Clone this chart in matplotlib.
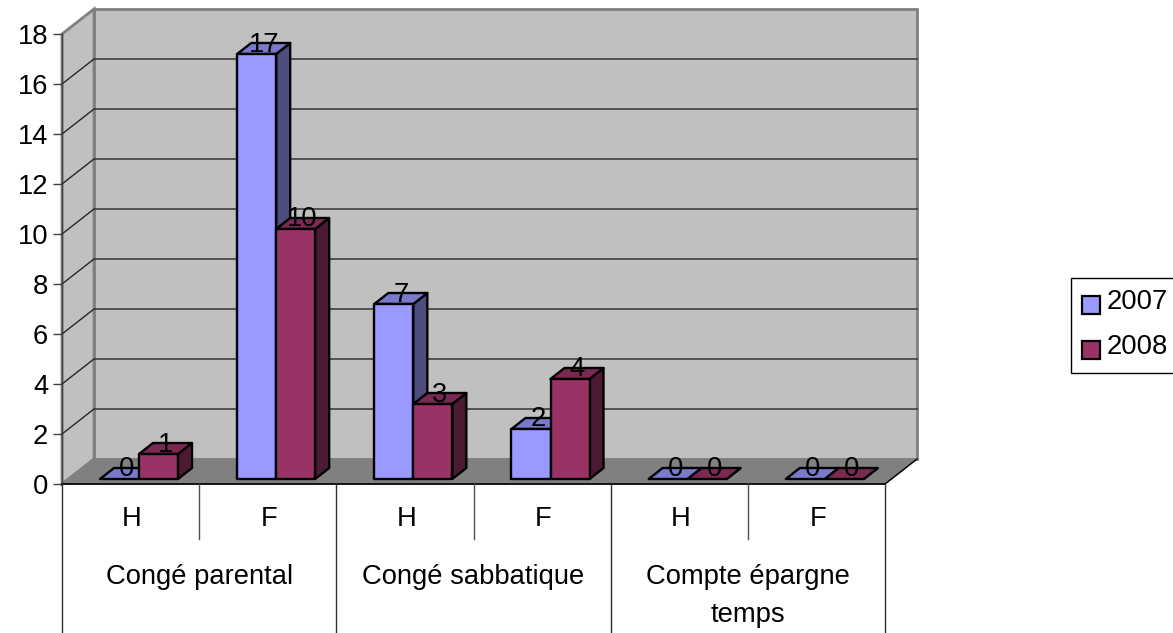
import matplotlib
matplotlib.use("Agg")
import matplotlib.pyplot as plt
from matplotlib.patches import Polygon, Rectangle
from matplotlib.lines import Line2D

plt.rcParams['font.family'] = ['Liberation Sans', 'DejaVu Sans']

# ---- data ----
subcategories = ['H', 'F', 'H', 'F', 'H', 'F']
groups = ['Congé parental', 'Congé sabbatique', 'Compte épargne\ntemps']
series_names = ['2007', '2008']
values_2007 = [0, 17, 7, 2, 0, 0]
values_2008 = [1, 10, 3, 4, 0, 0]
y_ticks = list(range(0, 19, 2))

W, H = 1173, 633
L, R, B, T = 62, 885, 484, 34          # front plane in pixels
PX = 6 / (R - L)                        # category units per pixel
PY = 18 / (B - T)                       # value units per pixel
FS = 19.7

fig = plt.figure(figsize=(W / 100, H / 100), dpi=100)
ax = fig.add_axes([L / W, 1 - B / H, (R - L) / W, (B - T) / H])
ax.set_xlim(0, 6)
ax.set_ylim(0, 18)
ax.patch.set_alpha(0)
for s in ax.spines.values():
    s.set_visible(False)

wall_dx, wall_dy = 32 * PX, 25 * PY
GRAY = '#808080'
WALL = '#C0C0C0'

# walls and floor
ax.add_patch(Polygon([(wall_dx, wall_dy), (6 + wall_dx, wall_dy),
                      (6 + wall_dx, 18 + wall_dy), (wall_dx, 18 + wall_dy)],
                     fc=WALL, ec=GRAY, lw=2, clip_on=False, zorder=1))
ax.add_patch(Polygon([(0, 0), (wall_dx, wall_dy), (wall_dx, 18 + wall_dy), (0, 18)],
                     fc=WALL, ec=GRAY, lw=2, clip_on=False, zorder=1))
ax.add_patch(Polygon([(0, 0), (6, 0), (6 + wall_dx, wall_dy), (wall_dx, wall_dy)],
                     fc=GRAY, ec=GRAY, lw=1, clip_on=False, zorder=1))

# gridlines
for v in y_ticks[1:-1]:
    ax.add_line(Line2D([0, wall_dx, 6 + wall_dx], [v, v + wall_dy, v + wall_dy],
                       color='#262626', lw=1, clip_on=False, zorder=2))
ax.add_line(Line2D([6, 6 + wall_dx], [0, wall_dy], color='black', lw=1, clip_on=False, zorder=2))

# bars
BAR_W = 39 * PX
BAR_X0 = 38 * PX
BAR_Y0 = 5 * PY
DX, DY = 14 * PX, 11 * PY
faces = [('#9999FF', '#7A7ACC', '#4D4D80'), ('#993366', '#7A2952', '#4D1A33')]


def bar3d(x, v, cols):
    y0, y1 = BAR_Y0, BAR_Y0 + v
    ec = dict(ec='black', lw=1.7, clip_on=False, zorder=4, joinstyle='round')
    ax.add_patch(Polygon([(x + BAR_W, y0), (x + BAR_W + DX, y0 + DY),
                          (x + BAR_W + DX, y1 + DY), (x + BAR_W, y1)], fc=cols[2], **ec))
    ax.add_patch(Polygon([(x, y1), (x + DX, y1 + DY),
                          (x + BAR_W + DX, y1 + DY), (x + BAR_W, y1)], fc=cols[1], **ec))
    if v > 0:
        ax.add_patch(Rectangle((x, y0), BAR_W, v, fc=cols[0], **ec))


for i in range(6):
    x = i + BAR_X0
    for k, vals in enumerate((values_2007, values_2008)):
        xb = x + k * BAR_W
        bar3d(xb, vals[i], faces[k])
        ax.text(xb + BAR_W / 2 + DX / 2, BAR_Y0 + vals[i] + 2.5 * PY,
                str(vals[i]), ha='center', va='baseline', fontsize=FS,
                color='black', zorder=6, clip_on=False)

# axes
ax.set_yticks(y_ticks)
ax.set_yticklabels([str(v) for v in y_ticks])
ax.tick_params(axis='y', direction='out', length=6.5, width=1, color='#404040',
               labelsize=FS, pad=3.5)
ax.set_xticks([i + 0.5 + 1.5 * PX for i in range(6)])
ax.set_xticklabels(subcategories)
ax.tick_params(axis='x', length=0, labelsize=FS, pad=16)
ax.add_line(Line2D([0, 0], [0, 18], color='#404040', lw=1, clip_on=False, zorder=3))
ax.add_line(Line2D([0, 6], [0, 0], color='black', lw=1.2, clip_on=False, zorder=3))

# category table
trans = ax.get_xaxis_transform()


def vline(xv, py, c='#303030'):
    ax.add_line(Line2D([xv, xv], [0, -(py - B) / (B - T)], transform=trans,
                       color=c, lw=1, clip_on=False, zorder=3))


for xv in (0, 2, 4, 6):
    vline(xv, H)
for xv in (1, 3, 5):
    vline(xv, 539, '#505050')

ax.text(1, -(577 - B) / (B - T), groups[0], transform=trans, ha='center', va='center', fontsize=FS)
ax.text(3, -(577 - B) / (B - T), groups[1], transform=trans, ha='center', va='center', fontsize=FS)
ax.text(5, -(596 - B) / (B - T), groups[2], transform=trans, ha='center', va='center', fontsize=FS,
        linespacing=1.55)

# legend
fig.patches.append(Rectangle((1071 / W, 1 - 373 / H), 103 / W, 95 / H, transform=fig.transFigure,
                             fc='white', ec='black', lw=1))
for name, col, py in zip(series_names, ('#9999FF', '#993366'), (302, 347)):
    fig.patches.append(Rectangle((1082 / W, 1 - (py + 12) / H), 18 / W, 18 / H, transform=fig.transFigure,
                                 fc=col, ec='black', lw=1.6))
    fig.text(1107 / W, 1 - py / H, name, ha='left', va='center', fontsize=FS)

fig.savefig('out.png', dpi=100)
